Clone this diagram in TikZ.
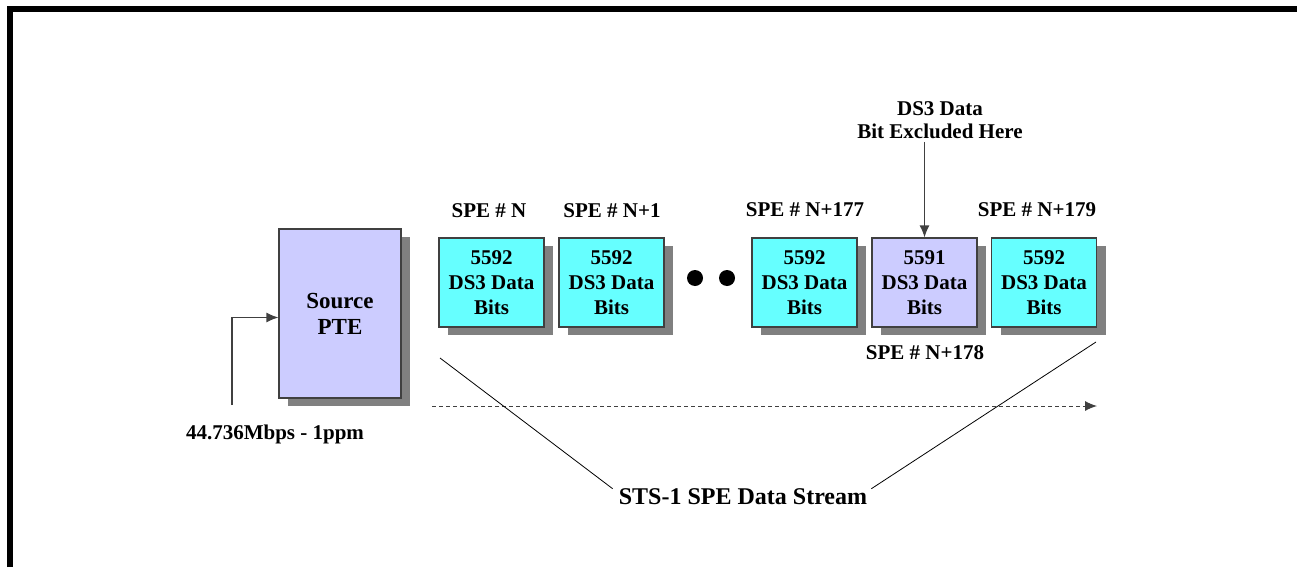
\documentclass[tikz,border=0pt]{standalone}
\usepackage{fontspec}
\setmainfont{Liberation Serif}
\usepackage{tikz}
\usetikzlibrary{arrows.meta,shadows}

\definecolor{spefill}{HTML}{66FFFF}
\definecolor{ptefill}{HTML}{CCCCFF}
\definecolor{edge}{HTML}{404040}
\definecolor{shade}{HTML}{808080}

\begin{document}
\begin{tikzpicture}[x=1pt, y=-1pt, every node/.style={font=\bfseries\fontsize{21}{25}\selectfont, inner sep=0pt},
	>={Latex[length=12pt,width=10pt]},
	spebox/.style={draw=edge, line width=1.2pt, fill=spefill, minimum width=105pt, minimum height=89pt, align=center,
		drop shadow={shadow xshift=9pt, shadow yshift=-8pt, fill=shade, opacity=1}},
	gap/.style={spebox, fill=ptefill}]
	\useasboundingbox (0,0) rectangle (1297,567);
	\draw[line width=6pt] (10,567) -- (10,9) -- (1297,9);
	\node[gap, minimum width=122pt, minimum height=169pt, font=\bfseries\fontsize{23}{26}\selectfont] (src) at (340,313.5) {Source\\PTE};
	\coordinate (in) at (232,405);
	\draw[->, edge, line width=1.2pt] (in) |- ([yshift=-4pt]src.west);
	\node (rate) at (275,434) {44.736Mbps - 1ppm};
	\node[spebox] (b1) at (491.5,282.5) {5592\\DS3 Data\\Bits};
	\node[spebox] (b2) at (611.5,282.5) {5592\\DS3 Data\\Bits};
	\node[spebox] (b3) at (804.5,282.5) {5592\\DS3 Data\\Bits};
	\node[gap] (b4) at (924.5,282.5) {5591\\DS3 Data\\Bits};
	\node[spebox] (b5) at (1044,282.5) {5592\\DS3 Data\\Bits};
	\fill (695,278) circle (8) (727,278) circle (8);
	\node (l1) at (489,211) {SPE \# N};
	\node (l2) at (612,211) {SPE \# N+1};
	\node (l3) at (805,210) {SPE \# N+177};
	\node (l4) at (925,353) {SPE \# N+178};
	\node (l5) at (1037,210) {SPE \# N+179};
	\node[align=center, font=\bfseries\fontsize{21}{23}\selectfont] (note) at (940,120) {DS3 Data\\Bit Excluded Here};
	\draw[->, edge, line width=1.2pt] ([yshift=-3pt]note.south -| b4.north) -- (b4.north);
	\coordinate (s0) at (432,406);
	\coordinate (s1) at (1097,406);
	\draw[->, edge, dashed, dash pattern=on 4pt off 3pt, line width=1pt] (s0) -- (s1);
	\node[font=\bfseries\fontsize{24}{26}\selectfont] (stream) at (743,497) {STS-1 SPE Data Stream};
	\coordinate (tl) at (440,358);
	\coordinate (tr) at (1096,342);
	\draw[line width=0.8pt] (tl) -- ([xshift=-6pt]stream.north west);
	\draw[line width=0.8pt] (tr) -- ([xshift=4pt]stream.north east);
\end{tikzpicture}
\end{document}
